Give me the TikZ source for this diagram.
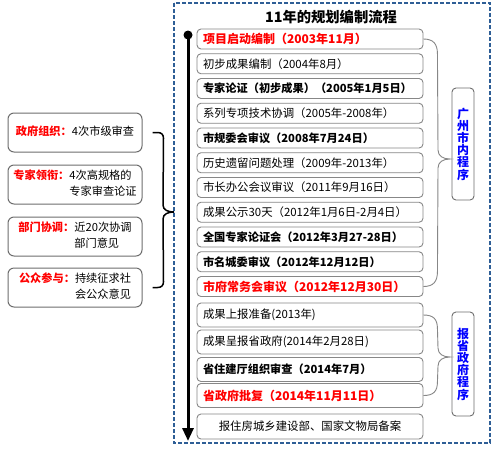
\documentclass[tikz,border=0pt]{standalone}
\usepackage{fontspec}
\setmainfont{Noto Sans CJK SC}
\usetikzlibrary{arrows.meta,calc}
\definecolor{frameblue}{RGB}{46,94,150}
\definecolor{boxgray}{RGB}{135,135,135}
\definecolor{lgray}{RGB}{110,110,110}
\begin{document}
\begin{tikzpicture}[x=1pt,y=-1pt,
  stepbox/.style={draw=boxgray, line width=0.9pt, rounded corners=4pt, fill=white,
    minimum width=226pt, minimum height=20pt, text width=214pt, inner xsep=6pt,
    inner ysep=0pt, align=left, font=\fontsize{11.4}{13}\selectfont},
  bstep/.style={stepbox, font=\fontsize{11.2}{13}\selectfont\bfseries},
  rstep/.style={stepbox, font=\fontsize{12}{13}\selectfont\bfseries, text=red},
  tallbox/.style={minimum height=24pt},
  sidebox/.style={draw=lgray, line width=1pt, rounded corners=6pt, fill=white,
    minimum width=134pt, minimum height=39pt, inner sep=0pt,
    font=\fontsize{11.2}{16}\selectfont},
  labbox/.style={draw=lgray, line width=0.9pt, rounded corners=4pt,
    minimum width=22pt, inner sep=0pt, align=center, text=blue,
    font=\fontsize{12}{12.2}\selectfont\bfseries},
  rbrace/.style={draw=boxgray, line width=0.9pt},
  lbrace/.style={draw=black, line width=1.5pt},
  frameline/.style={draw=frameblue, line width=1.4pt, dash pattern=on 4pt off 2pt},
]
\useasboundingbox (0,0) rectangle (500,448);
\fill[white] (0,0) rectangle (500,448);

% frame
\draw[frameline] (174,3) rectangle (490,443);

% title
\node[font=\fontsize{14.3}{16}\selectfont\bfseries] (title) at (331,17) {11年的规划编制流程};

% timeline
\node[circle, fill=black, inner sep=0pt, minimum size=9pt] (dot) at (188,35) {};
\coordinate (tend) at (188,441);
\draw[line width=3pt, -{Triangle[width=11pt,length=13pt]}] (dot.center) -- (tend);

% steps
\node[rstep] (b1) at (310,39) {项目启动编制（2003年11月）};
\node[stepbox] (b2) at (310,63.75) {初步成果编制（2004年8月）};
\node[bstep] (b3) at (310,88.5) {专家论证（初步成果）（2005年1月5日）};
\node[stepbox] (b4) at (310,113.25) {系列专项技术协调（2005年-2008年）};
\node[bstep] (b5) at (310,138) {市规委会审议（2008年7月24日）};
\node[stepbox] (b6) at (310,162.75) {历史遗留问题处理（2009年-2013年）};
\node[stepbox] (b7) at (310,187.5) {市长办公会议审议（2011年9月16日）};
\node[stepbox] (b8) at (310,212.25) {成果公示30天（2012年1月6日-2月4日）};
\node[bstep] (b9) at (310,237) {全国专家论证会（2012年3月27-28日）};
\node[bstep] (b10) at (310,261.75) {市名城委审议（2012年12月12日）};
\node[rstep] (b11) at (310,286.5) {市府常务会审议（2012年12月30日）};
\node[stepbox, tallbox] (b12) at (310,315) {成果上报准备(2013年)};
\node[stepbox, tallbox] (b13) at (310,342) {成果呈报省政府(2014年2月28日)};
\node[bstep, tallbox] (b14) at (310,369.5) {省住建厅组织审查（2014年7月）};
\node[rstep, tallbox] (b15) at (310,395.5) {省政府批复（2014年11月11日）};
\node[stepbox, minimum height=25pt, align=center] (b16) at (310,426.5) {报住房城乡建设部、国家文物局备案};

% right labels
\node[labbox, minimum height=112pt] (lab1) at (463,144) {广\\州\\市\\内\\程\\序};
\node[labbox, minimum height=104pt] (lab2) at (463,364) {报\\省\\政\\府\\程\\序};

% right braces
\coordinate (tip1) at (450,159);
\draw[rbrace] (b1.east) .. controls +(10,0) and +(0,-10) .. ($(b1.east)+(14,15)$)
  -- ($(tip1)+(-12,-9)$) .. controls +(0,6) and +(-7,0) .. (tip1)
  .. controls +(-7,0) and +(0,-6) .. ($(tip1)+(-12,9)$)
  -- ($(b11.east)+(14,-15)$) .. controls +(0,10) and +(10,0) .. (b11.east);
\coordinate (tip2) at (450,357);
\draw[rbrace] (b12.east) .. controls +(10,0) and +(0,-10) .. ($(b12.east)+(14,14)$)
  -- ($(tip2)+(-12,-9)$) .. controls +(0,6) and +(-7,0) .. (tip2)
  .. controls +(-7,0) and +(0,-6) .. ($(tip2)+(-12,9)$)
  -- ($(b15.east)+(14,-14)$) .. controls +(0,10) and +(10,0) .. (b15.east);

% left boxes
\node[sidebox] (l1) at (75,132.5) {\begin{tabular}{@{}l@{}l@{}}\textcolor{red}{\bfseries 政府组织：}&4次市级审查\end{tabular}};
\node[sidebox] (l2) at (75,184.5) {\begin{tabular}{@{}l@{}l@{}}\textcolor{red}{\bfseries 专家领衔：}&4次高规格的\\&专家审查论证\end{tabular}};
\node[sidebox] (l3) at (75,236.5) {\begin{tabular}{@{}l@{}l@{}}\textcolor{red}{\bfseries 部门协调：}&近20次协调\\&部门意见\end{tabular}};
\node[sidebox] (l4) at (75,287.5) {\begin{tabular}{@{}l@{}l@{}}\textcolor{red}{\bfseries 公众参与：}&持续征求社\\&会公众意见\end{tabular}};

% left brace
\coordinate (ltip) at (174,212);
\draw[lbrace] ($(l1.east)+(10,0)$) -- ($(l1.east)+(15,0)$)
  .. controls +(4,0) and +(0,-4) .. ($(l1.east)+(21,6)$)
  -- ($(ltip)+(-11,-7)$) .. controls +(0,5) and +(-6,0) .. (ltip)
  .. controls +(-6,0) and +(0,-5) .. ($(ltip)+(-11,7)$)
  -- ($(l4.east)+(21,-6)$) .. controls +(0,4) and +(4,0) .. ($(l4.east)+(15,0)$)
  -- ($(l4.east)+(10,0)$);
\end{tikzpicture}
\end{document}
